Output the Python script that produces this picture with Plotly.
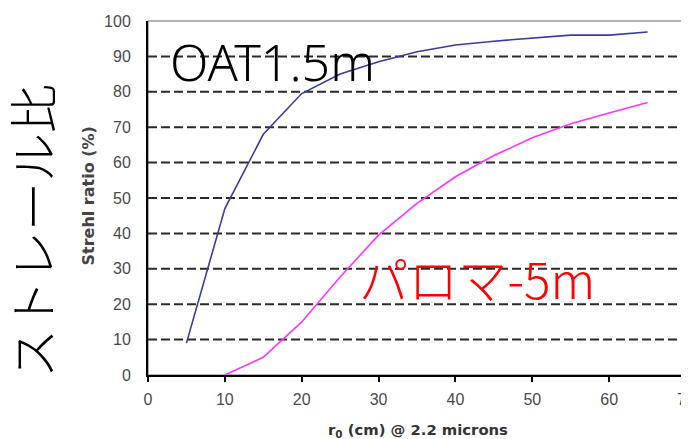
import plotly.graph_objects as go

r0_oat = [5, 10, 15, 20, 25, 30, 35, 40, 45, 50, 55, 60, 65]
strehl_oat = [9, 47, 68, 79.5, 85, 88.5, 91.3, 93.2, 94.3, 95.2, 96, 96, 96.9]
r0_palomar = [10, 15, 20, 25, 30, 35, 40, 45, 50, 55, 60, 65]
strehl_palomar = [0, 5, 15, 27.7, 39.5, 48.5, 56, 62, 67, 71, 74, 77]

x_ticks = [0, 10, 20, 30, 40, 50, 60, 70]
y_ticks = [0, 10, 20, 30, 40, 50, 60, 70, 80, 90, 100]
grid_levels = [10, 20, 30, 40, 50, 60, 70, 80, 90]

# page body has an 8px margin; figure is sized to fit the 689x439 window
PW, PH = 538.0, 354.0


def px(xr):
    return (xr - 148) / PW


def py(yr):
    return (375 - yr) / PH


fig = go.Figure()
fig.add_trace(go.Scatter(x=r0_oat, y=strehl_oat, mode="lines",
                         line=dict(color="#3b3b9c", width=1.6), showlegend=False))
fig.add_trace(go.Scatter(x=r0_palomar, y=strehl_palomar, mode="lines",
                         line=dict(color="#ff33ff", width=1.6), showlegend=False))

for g in grid_levels:
    fig.add_shape(type="line", xref="x", yref="y", x0=0, x1=70, y0=g, y1=g,
                  line=dict(color="#2a2a2a", width=2, dash="9px,4px"), layer="below")

fig.add_shape(type="rect", xref="paper", yref="paper", x0=0, x1=1, y0=0, y1=1,
              line=dict(color="#9a9a9a", width=1.5), layer="below")

fig.update_layout(
    width=681, height=431,
    margin=dict(l=140, r=3, t=13, b=64, autoexpand=False),
    plot_bgcolor="white", paper_bgcolor="white",
    font=dict(family="Liberation Sans, Arial, sans-serif", color="#333333", size=13),
    xaxis=dict(range=[0, 70], tickvals=x_ticks, showgrid=False, zeroline=False,
               automargin=False,
               showline=True, linecolor="black", linewidth=2,
               ticks="outside", ticklen=5, tickcolor="black", tickwidth=1.5,
               ticklabelstandoff=4, ticklabeloverflow="allow",
               tickfont=dict(size=16, color="#4a4a4a")),
    yaxis=dict(range=[0, 100], tickvals=y_ticks, showgrid=False, zeroline=False,
               automargin=False,
               showline=True, linecolor="black", linewidth=2,
               ticks="", ticklabelstandoff=12,
               tickfont=dict(size=16, color="#4a4a4a")),
)

fig.add_annotation(xref="paper", yref="paper", x=px(417.5), y=py(430),
                   xanchor="center", yanchor="middle",
                   text="<b>r<sub>0</sub> (cm) @ 2.2 microns</b>", showarrow=False,
                   font=dict(size=14.8, color="#333333", family="DejaVu Sans"))
fig.add_annotation(xref="paper", yref="paper", x=px(88), y=py(196.5),
                   xanchor="center", yanchor="middle",
                   text="<b>Strehl ratio (%)</b>", showarrow=False, textangle=-90,
                   font=dict(size=16, color="#444444", family="DejaVu Sans"))

fig.add_annotation(xref="paper", yref="paper", x=px(30), y=py(231),
                   xanchor="center", yanchor="middle",
                   text="ストレール比", showarrow=False, textangle=-90,
                   font=dict(size=49, color="black", family="Noto Sans CJK JP", weight=300))
fig.add_annotation(xref="paper", yref="paper", x=px(272), y=py(62),
                   xanchor="center", yanchor="middle",
                   text="OAT1.5m", showarrow=False,
                   font=dict(size=50, color="black", family="Noto Sans, DejaVu Sans", weight=300))
fig.add_annotation(xref="paper", yref="paper", x=px(477), y=py(277),
                   xanchor="center", yanchor="middle",
                   text="パロマ-5m", showarrow=False,
                   font=dict(size=49.5, color="#ff0000", family="Noto Sans CJK JP", weight=300))

fig.write_html("out.html")
